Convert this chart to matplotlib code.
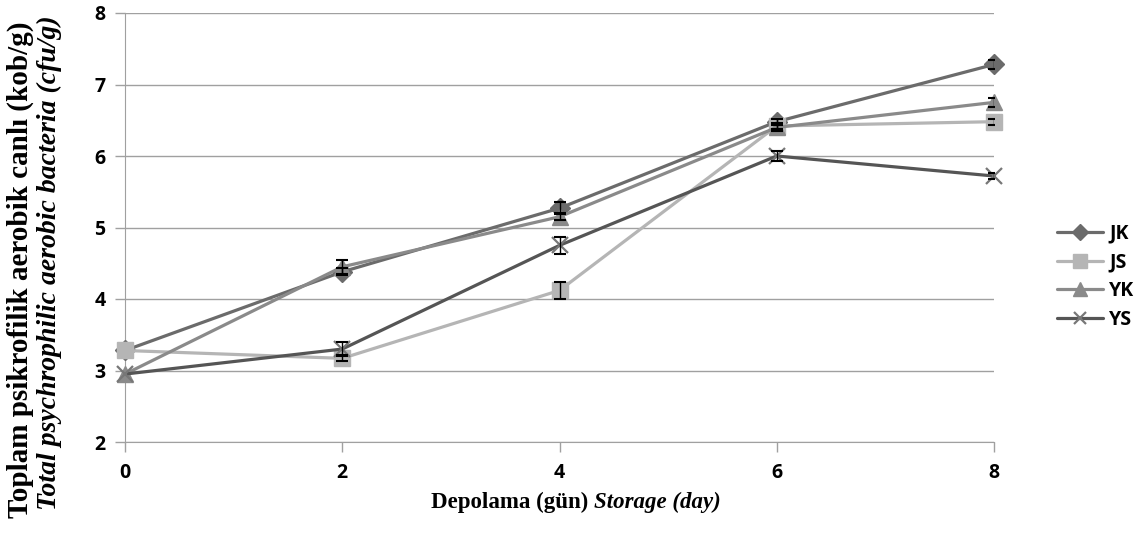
import matplotlib.pyplot as plt
from matplotlib.offsetbox import TextArea, HPacker, AnchoredOffsetbox

# Storage days and psychrophilic counts (log cfu/g)
days = [0, 2, 4, 6, 8]
jk = [3.28, 4.38, 5.27, 6.48, 7.28]
js = [3.28, 3.17, 4.12, 6.42, 6.48]
yk = [2.95, 4.45, 5.15, 6.40, 6.75]
ys = [2.95, 3.30, 4.75, 6.00, 5.72]

# error bars for days 2..8 (none visible at day 0)
jk_err = [0.05, 0.08, 0.04, 0.06]
js_err = [0.04, 0.12, 0.04, 0.04]
yk_err = [0.10, 0.05, 0.05, 0.06]
ys_err = [0.10, 0.12, 0.07, 0.04]

series_names = ["JK", "JS", "YK", "YS"]
y_ticks = [2, 3, 4, 5, 6, 7, 8]

plt.rcParams["font.family"] = ["Open Sans", "DejaVu Sans"]
plt.rcParams["font.weight"] = "bold"

fig = plt.figure(figsize=(11.44, 5.33), dpi=100)
ax = fig.add_axes([125 / 1144, 1 - 442 / 533, (994 - 125) / 1144, (442 - 13) / 533])

styles = [
    (jk, jk_err, "#6b6b6b", "D", 10),
    (js, js_err, "#b5b5b5", "s", 12),
    (yk, yk_err, "#8a8a8a", "^", 12),
    (ys, ys_err, "#555555", "x", 11),
]

for name, (vals, err, col, mk, ms) in zip(series_names, styles):
    ax.errorbar(days[1:], vals[1:], yerr=err, fmt="none", ecolor="black",
                elinewidth=1.0, capsize=4, capthick=1.5, zorder=4)
    mkw = dict(markerfacecolor=col, markeredgecolor=col)
    if mk == "x":
        mkw = dict(markeredgecolor="#777777", markeredgewidth=1.6)
    ax.plot(days, vals, color=col, linewidth=2.3, marker=mk, markersize=ms,
            label=name, zorder=3, solid_capstyle="round", clip_on=False, **mkw)

ax.set_xlim(0, 8)
ax.set_ylim(2, 8)
ax.set_xticks(days)
ax.set_yticks(y_ticks)
ax.grid(axis="y", color="#a0a0a0", linewidth=1.0)
ax.set_axisbelow(True)
for s in ["top", "right"]:
    ax.spines[s].set_visible(False)
for s in ["left", "bottom"]:
    ax.spines[s].set_color("#a0a0a0")
ax.tick_params(axis="both", direction="out", length=7, color="#a0a0a0", width=1.0,
               labelsize=14)
ax.tick_params(axis="x", pad=8)
ax.tick_params(axis="y", pad=7)

# x label: bold Turkish part then italic English part
xl1 = TextArea("Depolama (gün) ", textprops=dict(family="Liberation Serif", weight="bold", size=16.5))
xl2 = TextArea("Storage (day)", textprops=dict(family="Liberation Serif", style="italic", weight="bold", size=16.5))
pack = HPacker(children=[xl1, xl2], align="baseline", pad=0, sep=0)
box = AnchoredOffsetbox(loc="center", child=pack, frameon=False,
                        bbox_to_anchor=(576 / 1144, 1 - 502 / 533),
                        bbox_transform=fig.transFigure, borderpad=0)
fig.add_artist(box)

fig.text(20 / 1144, 1 - 270 / 533, "Toplam psikrofilik aerobik canlı (kob/g)",
         rotation=90, ha="center", va="center", family="Liberation Serif",
         weight="bold", size=21)
fig.text(49 / 1144, 1 - 263 / 533, "Total psychrophilic aerobic bacteria (cfu/g)",
         rotation=90, ha="center", va="center", family="Liberation Serif",
         weight="bold", style="italic", size=20)

leg = ax.legend(loc="center left", bbox_to_anchor=(1.052, 0.385), frameon=False,
                handlelength=2.4, labelspacing=0.45, handletextpad=0.3,
                markerscale=0.85,
                prop=dict(family="Open Sans", weight="bold", size=14))

fig.savefig("out.png", dpi=100)
